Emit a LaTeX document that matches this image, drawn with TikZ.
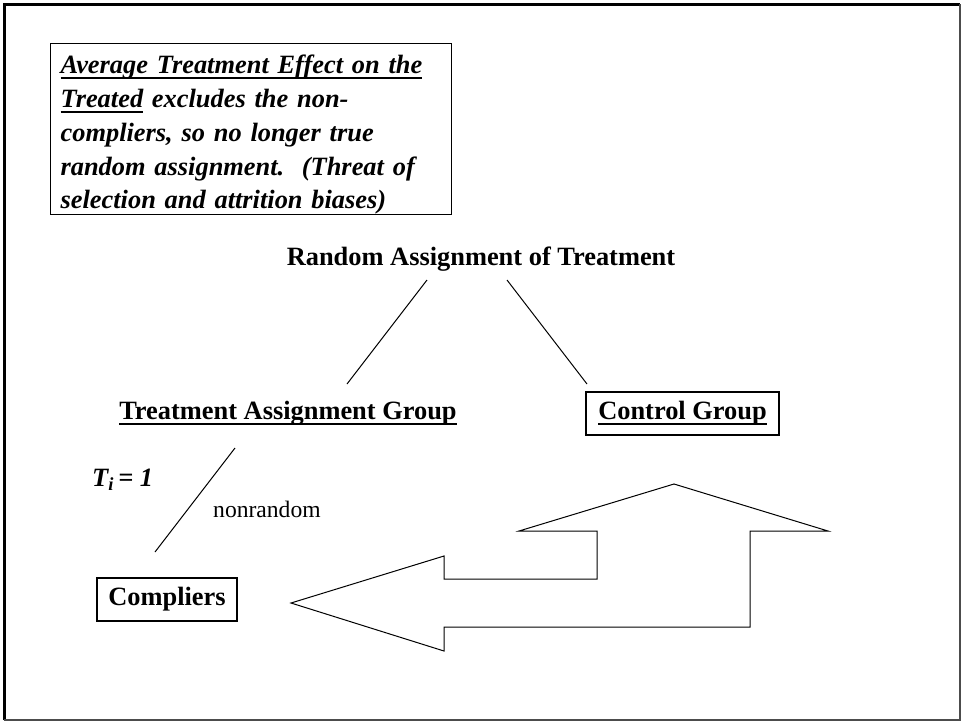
\documentclass[tikz,border=0pt]{standalone}
\usepackage{fontspec}
\setmainfont{Liberation Serif}
\usepackage{tikz}
\usetikzlibrary{calc}

% thick underline as on the slide
\newcommand{\undl}[1]{\leavevmode\setbox0\hbox{#1}\rlap{\rule[-5.5pt]{\wd0}{2pt}}\box0{}}

\begin{document}
\begin{tikzpicture}[x=1pt,y=-1pt,
  bigtext/.style={font=\fontsize{26.4}{33.75}\selectfont\bfseries},
  slanttext/.style={font=\fontsize{26.4}{33.75}\selectfont\bfseries\itshape},
  boxed/.style={draw, line width=1.2pt, inner sep=0pt},
  link/.style={line width=1pt}]

\useasboundingbox (0,0) rectangle (961,721);

% slide frame
\draw[line width=3pt] (4,720) -- (4,4) -- (960,4);
\draw[line width=1.5pt, black!70] (960,4) -- (960,720) -- (4,720);

\node (ate) [boxed, slanttext, anchor=north west, text width=381pt,
  minimum height=171pt, inner xsep=10pt, align=left] at (50,43)
  {\rule{0pt}{30pt}\undl{Average Treatment Effect on the}\\
   \undl{Treated} excludes the non-\\
   compliers, so no longer true\\
   random assignment.\ \ (Threat of\\
   selection and attrition biases)};

\node (rand) [bigtext, anchor=base] at (481,265) {Random Assignment of Treatment};
\node (treat) [bigtext, anchor=base] at (288,419) {\undl{Treatment Assignment Group}};
\node (ctrl) [boxed, bigtext, minimum width=193pt, minimum height=43pt] at (682.5,413.5)
  {\undl{Control Group}};
\node (comp) [boxed, bigtext, minimum width=140pt, minimum height=43pt] at (167,599.5)
  {Compliers};

\node (ti) [slanttext, anchor=base west, inner sep=0pt] at (92,486)
  {T\textsubscript{i}\,= 1};
\node (nonr) [font=\fontsize{23.6}{28}\selectfont, anchor=base west, inner sep=0pt]
  at (213,517) {nonrandom};

\coordinate (r1) at (427,280);
\coordinate (t1) at (347,384);
\coordinate (r2) at (507,280);
\coordinate (c1) at (587,384);
\coordinate (t2) at (235,448);
\coordinate (p1) at (155,552);

\draw[link] (r1) -- (t1);
\draw[link] (r2) -- (c1);
\draw[link] (t2) -- (p1);

% bent arrow back to the compliers
\draw[link] (674,484) -- (828,531) -- (750,531) -- (750,627) -- (444,627)
  -- (444,651) -- (291,603) -- (444,556) -- (444,579) -- (597,579)
  -- (597,531) -- (519,531) -- cycle;
\end{tikzpicture}
\end{document}
